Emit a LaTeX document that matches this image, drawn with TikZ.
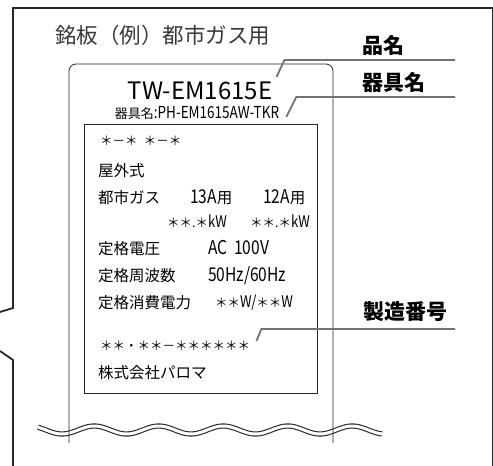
\documentclass[tikz,border=0pt]{standalone}
\usepackage{fontspec}
\setmainfont{Noto Sans CJK JP}
\newfontfamily\narrow[FakeStretch=0.82]{Noto Sans CJK JP}
\newcommand{\latn}[2][19]{{\fontsize{#1}{#1}\narrow #2}}
\usetikzlibrary{positioning,calc}
\colorlet{leadgray}{black!55}
\colorlet{titlegray}{black!78}

\begin{document}
\begin{tikzpicture}[x=1pt,y=-1pt,
  txt/.style={anchor=base west,inner sep=0pt,font=\fontsize{15.5}{17}\selectfont},
  star/.style={anchor=base west,inner sep=0pt,font=\fontsize{12.5}{14}\selectfont},
  lbl/.style={anchor=west,inner sep=0pt,font=\fontsize{21}{24}\selectfont\bfseries},
  leader/.style={leadgray,line width=1.8pt},
  frame/.style={black!85,line width=1.8pt},
  thin/.style={black!85,line width=0.8pt}]
\useasboundingbox (0,0) rectangle (493,466);
% outer panel
\draw[frame] (0,312) -- (13,308) -- (13,8) -- (493,8);
\draw[frame] (0,351) -- (13,360) -- (13,466);
\draw[thin] (492.5,8) -- (492.5,466);
\node[anchor=west,inner sep=0pt,text=titlegray,font=\fontsize{21.5}{24}\selectfont] (title) at (55,35) {銘板（例）都市ガス用};
% wave cut
\draw[black!85,line width=1.1pt,double=white,double distance=3pt]
  plot[domain=38:382,samples=150] (\x,{430+4*cos(5.5814*(\x-62))});
% plate
\draw[thin,rounded corners=7pt] (69,443) -- (69,64) -- (333,64) -- (333,443);
\draw[thin] (84,124) rectangle (317,393);
\node[anchor=base,inner sep=0pt,font=\fontsize{24}{26}\selectfont] (model) at (200,99) {TW-EM1615E};
\node[anchor=base,inner sep=0pt,font=\fontsize{13}{15}\selectfont] (device) at (197,118) {器具名\latn[16.5]{:PH-EM1615AW-TKR}};
\node[star] (code) at (100,145) {＊－＊\hspace{0.5em}＊－＊};
\node[txt] (outdoor) at (98,176) {屋外式};
\node[txt] (gas) at (98,203) {都市ガス};
\node[txt] (g13) at (190,203) {\latn{13A}用};
\node[txt] (g12) at (263,203) {\latn{12A}用};
\node[star,anchor=base east] (kw13) at (227,227) {＊＊.＊\latn[16]{kW}};
\node[star,anchor=base east] (kw12) at (310,227) {＊＊.＊\latn[16]{kW}};
\node[txt] (volt) at (98,254) {定格電圧};
\node[txt] (voltv) at (208,254) {\latn{AC\hspace{0.35em}100V}};
\node[txt] (freq) at (98,281) {定格周波数};
\node[txt] (freqv) at (208,281) {\latn{50Hz/60Hz}};
\node[txt] (power) at (98,308) {定格消費電力};
\node[star] (powerv) at (215,307) {＊＊\latn[16]{W/}＊＊\latn[16]{W}};
\node[star] (serial) at (100,350) {＊＊・＊＊－＊＊＊＊＊＊};
\node[txt] (maker) at (98,378) {株式会社パロマ};
% callouts
\node[lbl] (lname) at (362,45) {品名};
\node[lbl] (ldev) at (362,82) {器具名};
\node[lbl] (lserial) at (363,312) {製造番号};
\coordinate (nameEnd) at (455,60);
\coordinate (devEnd) at (455,97);
\coordinate (serialEnd) at (455,329);
\draw[leader] ([shift={(4,-22)}]model.base east) -- ++(8,-17) -- (nameEnd);
\draw[leader] ([shift={(7,-1)}]device.base east) -- ++(10,-20) -- (devEnd);
\draw[leader] ([shift={(6,-9)}]serial.base east) -- ++(5,-12) -- (serialEnd);
\end{tikzpicture}
\end{document}
